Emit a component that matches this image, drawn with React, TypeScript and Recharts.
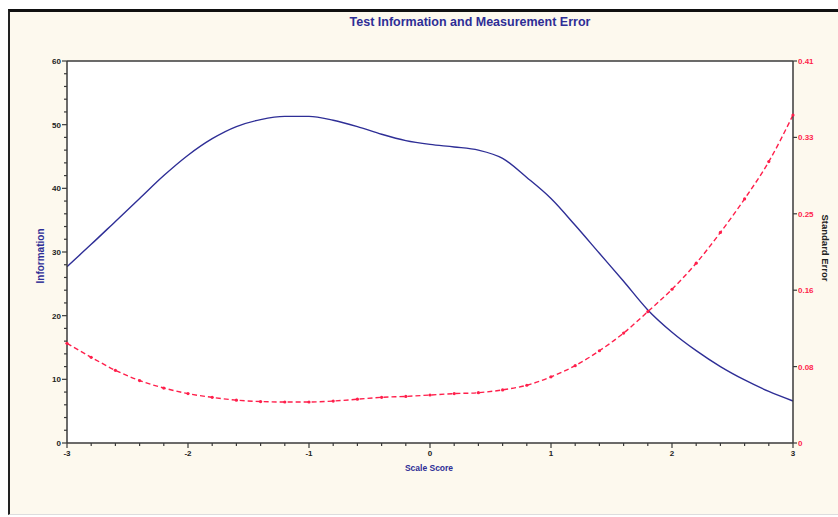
import React from "react";
import { LineChart, Line, XAxis, YAxis, CartesianGrid, ReferenceLine } from "recharts";

const scores = [-3, -2.8, -2.6, -2.4, -2.2, -2, -1.8, -1.6, -1.4, -1.2, -1, -0.8, -0.6, -0.4, -0.2, 0, 0.2, 0.4, 0.6, 0.8, 1, 1.2, 1.4, 1.6, 1.8, 2, 2.2, 2.4, 2.6, 2.8, 3];
const information = [27.7, 31.2, 34.8, 38.4, 42.0, 45.2, 47.8, 49.7, 50.8, 51.3, 51.3, 50.7, 49.7, 48.5, 47.5, 46.9, 46.5, 46.0, 44.7, 41.7, 38.4, 34.2, 29.8, 25.4, 20.9, 17.4, 14.5, 12.0, 9.9, 8.1, 6.6];
const standardError = [0.107, 0.092, 0.078, 0.067, 0.059, 0.053, 0.049, 0.046, 0.0445, 0.044, 0.044, 0.045, 0.047, 0.049, 0.050, 0.0515, 0.053, 0.054, 0.057, 0.062, 0.071, 0.083, 0.099, 0.118, 0.141, 0.165, 0.193, 0.226, 0.262, 0.302, 0.352];

const xTicks = [-3, -2.8, -2.6, -2.4, -2.2, -2, -1.8, -1.6, -1.4, -1.2, -1, -0.8, -0.6, -0.4, -0.2, 0, 0.2, 0.4, 0.6, 0.8, 1, 1.2, 1.4, 1.6, 1.8, 2, 2.2, 2.4, 2.6, 2.8, 3];
const xMajorTicks = [-3, -2, -1, 0, 1, 2, 3];
const infoTicks = [0, 2, 4, 6, 8, 10, 12, 14, 16, 18, 20, 22, 24, 26, 28, 30, 32, 34, 36, 38, 40, 42, 44, 46, 48, 50, 52, 54, 56, 58, 60];
const infoMajorTicks = [0, 10, 20, 30, 40, 50, 60];
const seTicks = [0, 0.082, 0.164, 0.246, 0.328, 0.41];

const title = "Test Information and Measurement Error";
const xLabel = "Scale Score";
const leftLabel = "Information";
const rightLabel = "Standard Error";

const data = scores.map((s, i) => ({ score: s, info: information[i], se: standardError[i] }));

const FONT = "'Liberation Sans', Arial, sans-serif";
const NAVY = "#2e2e96";
const RED = "#ff1f4b";
const AXIS = "#3a3a3a";

const isMajor = (v: number, majors: number[]) => majors.some((m) => Math.abs(m - v) < 1e-6);

const XTick = (props: any) => {
  const { x, y, payload } = props;
  const major = isMajor(payload.value, xMajorTicks);
  return (
    <g>
      <line x1={x} x2={x} y1={y} y2={y + (major ? 5 : 3)} stroke={AXIS} strokeWidth={1.2} />
      {major && (
        <text x={x} y={y + 13} textAnchor="middle" fontSize={8} fontWeight="bold" fill="#222" fontFamily={FONT}>
          {payload.value}
        </text>
      )}
    </g>
  );
};

const LeftTick = (props: any) => {
  const { x, y, payload } = props;
  const major = isMajor(payload.value, infoMajorTicks);
  return (
    <g>
      <line x1={x} x2={x - (major ? 5 : 3)} y1={y} y2={y} stroke={AXIS} strokeWidth={1.2} />
      {major && (
        <text x={x - 6} y={y + 3} textAnchor="end" fontSize={8} fontWeight="bold" fill="#222" fontFamily={FONT}>
          {payload.value}
        </text>
      )}
    </g>
  );
};

const RightTick = (props: any) => {
  const { x, y, payload } = props;
  const v = payload.value as number;
  const label = v === 0 ? "0" : v.toFixed(2);
  return (
    <g>
      <line x1={x} x2={x + 4} y1={y} y2={y} stroke={AXIS} strokeWidth={1.2} />
      <text x={x + 5} y={y + 3} textAnchor="start" fontSize={8} fontWeight="bold" fill={RED} fontFamily={FONT}>
        {label}
      </text>
    </g>
  );
};

export default function App() {
  return (
    <div style={{ position: "absolute", left: 0, top: 0, width: 838, height: 517, background: "#ffffff", overflow: "hidden" }}>
      <div
        style={{
          position: "absolute",
          left: 8,
          top: 9,
          width: 840,
          height: 502,
          background: "#fdf9ee",
          borderTop: "3px solid #111",
          borderLeft: "2px solid #222",
          borderBottom: "1px solid #ddd",
        }}
      />
      <div style={{ position: "absolute", left: 0, top: 0 }}>
        <LineChart width={838} height={517} data={data} margin={{ top: 61, left: 7, right: 5, bottom: 44 }}>
          <CartesianGrid horizontal={false} vertical={false} fill="#ffffff" />
          <XAxis
            dataKey="score"
            type="number"
            domain={[-3, 3]}
            ticks={xTicks}
            interval={0}
            tickSize={0}
            tickMargin={0}
            tickLine={false}
            tick={<XTick />}
            axisLine={{ stroke: AXIS, strokeWidth: 1.5 }}
            height={30}
          />
          <YAxis
            yAxisId="left"
            domain={[0, 60]}
            ticks={infoTicks}
            interval={0}
            tickSize={0}
            tickMargin={0}
            tickLine={false}
            tick={<LeftTick />}
            axisLine={{ stroke: AXIS, strokeWidth: 1.5 }}
            width={60}
          />
          <YAxis
            yAxisId="right"
            orientation="right"
            domain={[0, 0.41]}
            ticks={seTicks}
            interval={0}
            tickSize={0}
            tickMargin={0}
            tickLine={false}
            tick={<RightTick />}
            axisLine={{ stroke: AXIS, strokeWidth: 1.5 }}
            width={40}
          />
          <ReferenceLine yAxisId="left" y={60} stroke={AXIS} strokeWidth={1.5} />
          <Line
            yAxisId="left"
            dataKey="info"
            type="monotone"
            stroke={NAVY}
            strokeWidth={1.4}
            dot={false}
            isAnimationActive={false}
          />
          <Line
            yAxisId="right"
            dataKey="se"
            type="monotone"
            stroke={RED}
            strokeWidth={1.4}
            strokeDasharray="5 3"
            dot={{ r: 1.6, fill: RED, stroke: RED, strokeWidth: 0 }}
            isAnimationActive={false}
          />
          <text x={470} y={26} textAnchor="middle" fontSize={12.5} fontWeight="bold" fill={NAVY} fontFamily={FONT}>
            {title}
          </text>
          <text x={429} y={471} textAnchor="middle" fontSize={8.5} fontWeight="bold" fill={NAVY} fontFamily={FONT}>
            {xLabel}
          </text>
          <text
            x={44}
            y={256}
            textAnchor="middle"
            fontSize={10}
            fontWeight="bold"
            fill={NAVY}
            fontFamily={FONT}
            transform="rotate(-90 44 256)"
          >
            {leftLabel}
          </text>
          <text
            x={822}
            y={248}
            textAnchor="middle"
            fontSize={9.5}
            fontWeight="bold"
            fill="#222"
            fontFamily={FONT}
            transform="rotate(90 822 248)"
          >
            {rightLabel}
          </text>
        </LineChart>
      </div>
    </div>
  );
}
